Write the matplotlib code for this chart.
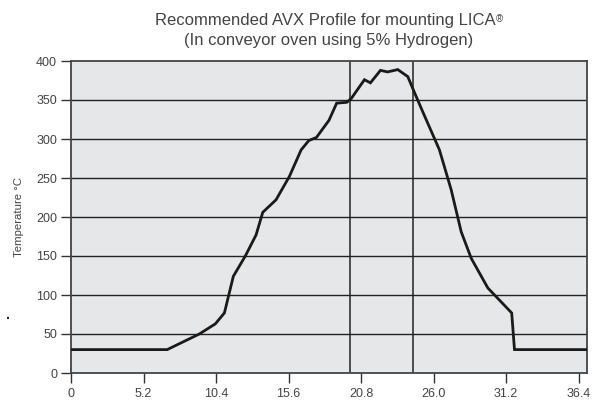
import matplotlib
matplotlib.use("Agg")
import matplotlib.pyplot as plt

plt.rcParams['font.family'] = ['Liberation Sans', 'DejaVu Sans']

time_min = [0, 6.9, 9.2, 10.35, 11.0, 11.64, 12.5, 13.27, 13.75, 14.7, 15.66, 16.5,
            17.05, 17.6, 18.5, 19.05, 19.77, 20.1, 21.04, 21.47, 22.19, 22.7, 23.43,
            24.15, 24.5, 25.22, 26.42, 27.26, 27.98, 28.7, 29.89, 31.6, 31.8, 37.0]
temp_c = [30, 30, 50, 63, 77, 124, 150, 177, 206, 222, 252, 286,
          298, 302, 324, 346, 347, 352, 376, 372, 388, 386, 389,
          380, 365, 335, 286, 235, 181, 147, 109, 77, 30, 30]
vlines_x = [20.0, 24.5]
xticks = [0, 5.2, 10.4, 15.6, 20.8, 26.0, 31.2, 36.4]
xtick_labels = ["0", "5.2", "10.4", "15.6", "20.8", "26.0", "31.2", "36.4"]
yticks = [0, 50, 100, 150, 200, 250, 300, 350, 400]

txt = "#444444"
fig = plt.figure(figsize=(6.02, 4.04), dpi=100)
ax = fig.add_axes([71/602, 1-373/404, (587-71)/602, (373-61)/404])
ax.set_facecolor("#e6e7e8")
ax.set_xlim(0, 37)
ax.set_ylim(0, 400)
for y in yticks[1:-1]:
    ax.axhline(y, color="#222222", lw=1.0, zorder=1)
for x in vlines_x:
    ax.axvline(x, color="#222222", lw=1.1, zorder=1)
ax.plot(time_min, temp_c, color="#1a1a1a", lw=2.0, zorder=3, solid_joinstyle="miter")
ax.set_xticks(xticks)
ax.set_xticklabels(xtick_labels)
ax.set_yticks(yticks)
ax.tick_params(axis="both", colors="#333333", labelcolor=txt, labelsize=9, length=7, width=1)
ax.tick_params(axis="y", pad=3)
ax.tick_params(axis="x", pad=4)
for s in ax.spines.values():
    s.set_color("#444444")
    s.set_linewidth(1.3)
ax.set_ylabel("Temperature °C", fontsize=8.2, color=txt, labelpad=9)
t1 = fig.text(325/602, 1-20/404, "Recommended AVX Profile for mounting LICA",
              ha="center", va="center", fontsize=12, color=txt)
fig.text(329/602, 1-40/404, "(In conveyor oven using 5% Hydrogen)",
         ha="center", va="center", fontsize=12, color=txt)
fig.canvas.draw()
bb = t1.get_window_extent()
fig.text((bb.x1 + 1) / 602, (bb.y1 - 2) / 404, "®", ha="left", va="top",
         fontsize=7, color=txt)
fig.text(8/602, 1-322/404, ".", ha="center", va="bottom", fontsize=10, color="#222222", fontweight="bold")
fig.savefig("out.png", dpi=100)
